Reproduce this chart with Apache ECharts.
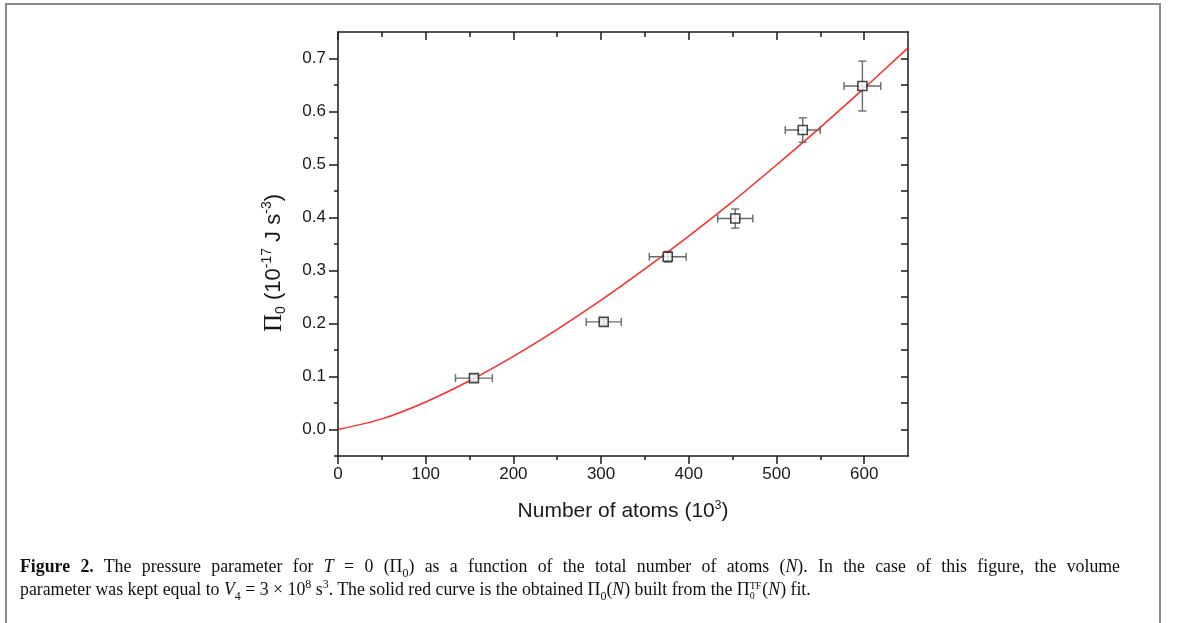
<!DOCTYPE html>
<html>
<head>
<meta charset="utf-8">
<script src="https://cdn.jsdelivr.net/npm/echarts@6/dist/echarts.min.js"></script>
<style>
html,body{margin:0;padding:0;background:#fff;}
#wrap{position:relative;width:1179px;height:623px;overflow:hidden;background:#fff;}
#chart{position:absolute;left:0;top:0;width:1179px;height:623px;}
#frame{position:absolute;left:5px;top:3px;width:1156px;height:640px;border:2px solid #8c8c8c;border-bottom:none;box-sizing:border-box;}
.cap{position:absolute;left:20px;font-family:"Liberation Serif","DejaVu Serif",serif;font-size:17.8px;color:#111;line-height:23px;white-space:nowrap;}
#cap1{top:555px;width:1100px;white-space:normal;text-align:justify;text-align-last:justify;word-spacing:-1px;}
#cap2{top:578px;}
.cap sub,.cap sup{font-size:12px;line-height:0;}
.ss{display:inline-flex;flex-direction:column;vertical-align:middle;font-size:10px;line-height:10px;margin-right:1px;}
</style>
</head>
<body>
<div id="wrap">
<div id="chart"></div>
<div id="frame"></div>
<div class="cap" id="cap1"><b>Figure 2.</b> The pressure parameter for <i>T</i> = 0 (Π<sub>0</sub>) as a function of the total number of atoms (<i>N</i>). In the case of this figure, the volume</div>
<div class="cap" id="cap2">parameter was kept equal to <i>V</i><sub>4</sub> = 3 × 10<sup>8</sup> s<sup>3</sup>. The solid red curve is the obtained Π<sub>0</sub>(<i>N</i>) built from the Π<span class="ss"><span>TF</span><span>0</span></span>(<i>N</i>) fit.</div>
</div>
<script>
// ---- data ----
const nAtoms = [155, 303, 376, 453, 530, 598];
const pi0 = [0.097, 0.203, 0.326, 0.398, 0.565, 0.648];
const nErr = [21, 20, 21, 20, 20, 21];
const piErr = [0.006, 0.004, 0.010, 0.018, 0.023, 0.047];

const fitN = [0, 50, 100, 150, 200, 250, 300, 350, 400, 450, 500, 550, 600, 650];
const fitPi = [0, 0.020, 0.052, 0.092, 0.138, 0.189, 0.244, 0.303, 0.365, 0.430, 0.499, 0.570, 0.644, 0.720];

const xMajor = [0, 100, 200, 300, 400, 500, 600];
const xMinor = [50, 150, 250, 350, 450, 550];
const yMajor = [0, 0.1, 0.2, 0.3, 0.4, 0.5, 0.6, 0.7];
const yMinor = [-0.05, 0.05, 0.15, 0.25, 0.35, 0.45, 0.55, 0.65];
const yRight = [0, 0.05, 0.1, 0.15, 0.2, 0.25, 0.3, 0.35, 0.4, 0.45, 0.5, 0.55, 0.6, 0.65, 0.7];

const AX = '#1a1a1a';
const font = '"Liberation Sans", Arial, sans-serif';

function xAx(pos, vals, len, inside, showLine, showLabel) {
  return {
    type: 'value', position: pos, min: 0, max: 650, gridIndex: 0,
    axisLine: {show: showLine, onZero: false, lineStyle: {color: AX, width: 1.5}},
    axisTick: {show: true, inside: inside, length: len, customValues: vals, lineStyle: {color: AX, width: 1.5}},
    axisLabel: {show: showLabel, customValues: vals, fontFamily: font, fontSize: 17, color: '#1a1a1a', margin: 10},
    splitLine: {show: false}
  };
}
function yAx(pos, vals, len, inside, showLine, showLabel) {
  return {
    type: 'value', position: pos, min: -0.05, max: 0.75, gridIndex: 0,
    axisLine: {show: showLine, onZero: false, lineStyle: {color: AX, width: 1.5}},
    axisTick: {show: true, inside: inside, length: len, customValues: vals, lineStyle: {color: AX, width: 1.5}},
    axisLabel: {show: showLabel, customValues: vals, fontFamily: font, fontSize: 17, color: '#1a1a1a', margin: 12,
      formatter: v => v.toFixed(1)},
    splitLine: {show: false}
  };
}

const xs = [
  xAx('bottom', xMajor, 8, false, true, true),
  xAx('bottom', xMinor, 4, false, false, false),
  xAx('top', xMajor, 8, true, true, false),
  xAx('top', xMinor, 5, true, false, false)
];
xs[0].name = 'Number of atoms (10{sup|3})';
xs[0].nameLocation = 'middle';
xs[0].nameGap = 44;
xs[0].nameTextStyle = {fontFamily: font, fontSize: 21, color: '#1a1a1a',
  rich: {sup: {fontFamily: font, fontSize: 12, verticalAlign: 'top', padding: [0, 0, 10, 0]}}};

const ys = [
  yAx('left', yMajor, 9, false, true, true),
  yAx('left', yMinor, 4, false, false, false),
  yAx('right', yRight, 7, true, true, false)
];
ys[0].name = '{pi|Π}{sub|0}{n| (10}{sup|-17}{n| J s}{sup|-3}{n|)}';
ys[0].nameLocation = 'middle';
ys[0].nameRotate = 90;
ys[0].nameGap = 50;
ys[0].nameTextStyle = {fontFamily: font, fontSize: 22, color: '#1a1a1a', padding: [0, 38, 0, 0],
  rich: {
    pi: {fontFamily: '"Liberation Serif", serif', fontSize: 25, color: '#1a1a1a', lineHeight: 28},
    n: {fontFamily: font, fontSize: 22, color: '#1a1a1a', lineHeight: 28},
    sub: {fontFamily: font, fontSize: 14, color: '#1a1a1a', verticalAlign: 'bottom', lineHeight: 28, padding: [9, 0, 0, 0]},
    sup: {fontFamily: font, fontSize: 14, color: '#1a1a1a', verticalAlign: 'top', lineHeight: 28, padding: [0, 0, 9, 0]}
  }};

const errData = nAtoms.map((n, i) => [n, pi0[i], nErr[i], piErr[i]]);

function renderErr(params, api) {
  const x = api.value(0), y = api.value(1), ex = api.value(2), ey = api.value(3);
  const l = api.coord([x - ex, y]), r = api.coord([x + ex, y]);
  const t = api.coord([x, y + ey]), b = api.coord([x, y - ey]);
  const cap = 4;
  const st = {stroke: '#6a6a6a', lineWidth: 1.4};
  const ln = (x1, y1, x2, y2) => ({type: 'line', shape: {x1, y1, x2, y2}, style: st});
  return {type: 'group', children: [
    ln(l[0], l[1], r[0], r[1]),
    ln(l[0], l[1] - cap, l[0], l[1] + cap),
    ln(r[0], r[1] - cap, r[0], r[1] + cap),
    ln(t[0], t[1], b[0], b[1]),
    ln(t[0] - cap, t[1], t[0] + cap, t[1]),
    ln(b[0] - cap, b[1], b[0] + cap, b[1])
  ]};
}

const chart = echarts.init(document.getElementById('chart'), null, {renderer: 'canvas'});
chart.setOption({
  animation: false,
  backgroundColor: 'transparent',
  grid: {left: 338, right: 271, top: 32, bottom: 167, containLabel: false},
  xAxis: xs,
  yAxis: ys,
  series: [
    {type: 'line', xAxisIndex: 0, yAxisIndex: 0, data: fitN.map((n, i) => [n, fitPi[i]]),
      smooth: 0.3, symbol: 'none', lineStyle: {color: '#ff2a2a', width: 1.5}, z: 2},
    {type: 'custom', xAxisIndex: 0, yAxisIndex: 0, data: errData, renderItem: renderErr, z: 3},
    {type: 'scatter', xAxisIndex: 0, yAxisIndex: 0, data: nAtoms.map((n, i) => [n, pi0[i]]),
      symbol: 'rect', symbolSize: 9,
      itemStyle: {color: '#ffffff', borderColor: '#1a1a1a', borderWidth: 1.6}, z: 4}
  ]
});
</script>
</body>
</html>
